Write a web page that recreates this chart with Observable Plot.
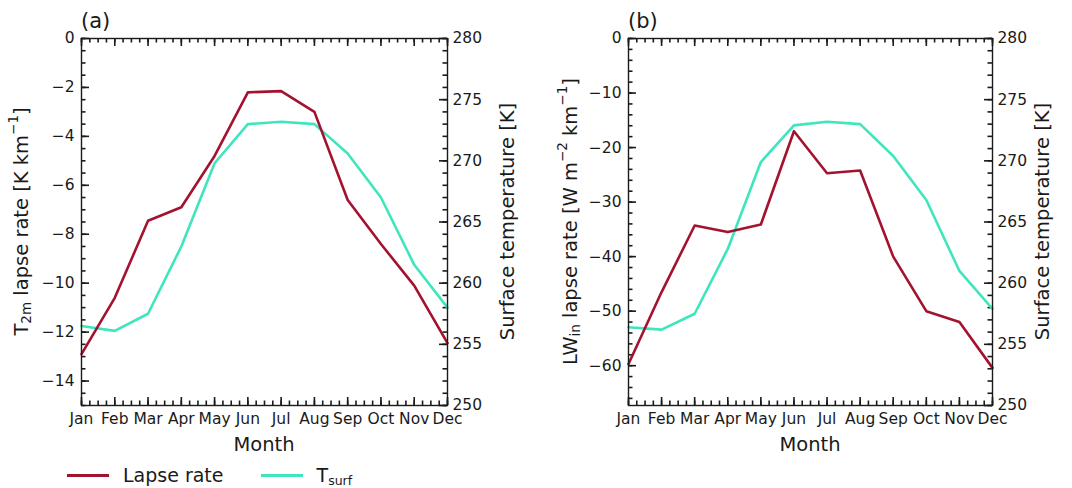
<!DOCTYPE html>
<html>
<head>
<meta charset="utf-8">
<script src="https://cdn.jsdelivr.net/npm/d3@7"></script>
<script src="https://cdn.jsdelivr.net/npm/@observablehq/plot@0.6"></script>
<style>
  html, body { margin: 0; padding: 0; background: #fff; }
  #wrap { position: relative; width: 1072px; height: 488px; overflow: hidden; font-family: "DejaVu Sans", sans-serif; color: #1a1a1a; }
  .panel { position: absolute; top: 0; width: 536px; height: 460px; }
  .panel svg { position: absolute; left: 0; top: 0; }
  #legend { position: absolute; left: 67px; top: 463px; font-size: 19px; line-height: 24px; display: flex; align-items: center; white-space: nowrap; }
  .sw { display: inline-block; width: 42px; height: 3px; margin-right: 14px; }
  .item { display: flex; align-items: center; margin-right: 37px; }
  .lab sub { font-size: 12.5px; vertical-align: -3px; line-height: 0; }
</style>
</head>
<body>
<div id="wrap">
  <div class="panel" id="pa" style="left:0px"></div>
  <div class="panel" id="pb" style="left:536px"></div>
  <div id="legend">
    <div class="item"><span class="sw" style="background:#a3122f"></span><span class="lab">Lapse rate</span></div>
    <div class="item"><span class="sw" style="background:#3fe6bd"></span><span class="lab">T<sub>surf</sub></span></div>
  </div>
</div>
<script>
// ---- data ----
const months = ["Jan","Feb","Mar","Apr","May","Jun","Jul","Aug","Sep","Oct","Nov","Dec"];
const monthNum = [1,2,3,4,5,6,7,8,9,10,11,12];
// panel (a): T2m lapse rate [K km-1]
const lapseT2m = [-12.9, -10.6, -7.45, -6.9, -4.8, -2.2, -2.15, -3.0, -6.6, -8.4, -10.1, -12.45];
// panel (b): LWin lapse rate [W m-2 km-1]
const lapseLW = [-59.7, -46.5, -34.3, -35.5, -34.1, -17.0, -24.7, -24.2, -40.0, -50.0, -52.0, -60.4];
// surface temperature [K]
const tsurfA = [256.5, 256.1, 257.5, 263.0, 269.8, 273.0, 273.2, 273.0, 270.6, 267.0, 261.5, 258.0];
const tsurfB = [256.4, 256.2, 257.5, 262.8, 269.9, 272.9, 273.2, 273.0, 270.4, 266.8, 261.0, 257.9];
// axis ticks
const yTicksA = [-14, -12, -10, -8, -6, -4, -2, 0];
const yDomA = [-15, 0];
const yTicksB = [-60, -50, -40, -30, -20, -10, 0];
const yDomB = [-67.3, 0];
const tTicks = [250, 255, 260, 265, 270, 275, 280];
const tDom = [250, 280];

const RED = "#a3122f";
const CYAN = "#3fe6bd";
const INK = "#1a1a1a";
const W = 536, H = 460, MT = 38, MB = 55;
const innerH = H - MT - MB;
const MAJ = 8, MIN = 4.5, TW = 1.6;
const style = {fontFamily: "DejaVu Sans, sans-serif", fontSize: "15.5px", color: INK, background: "transparent", overflow: "visible"};

function range(a, b, s) { const r = []; for (let v = a; v <= b + 1e-9; v += s) r.push(+v.toFixed(4)); return r; }
const minorX = range(1, 12, 0.25);

function addText(svg, x, y, parts, opts = {}) {
  const t = d3.select(svg).append("text")
    .attr("font-family", "DejaVu Sans, sans-serif")
    .attr("font-size", opts.size || 19.5)
    .attr("fill", INK)
    .attr("text-anchor", opts.anchor || "middle")
    .attr("transform", `translate(${x},${y})` + (opts.rotate ? ` rotate(${opts.rotate})` : ""));
  if (opts.middle) t.attr("dominant-baseline", "middle");
  for (const [s, kind] of parts) {
    const ts = t.append("tspan").text(s);
    if (kind === "sub") ts.attr("font-size", 13.5).attr("dy", 5);
    else if (kind === "sup") ts.attr("font-size", 13.5).attr("dy", -8);
    else if (kind === "back-sub") ts.attr("dy", -5);
    else if (kind === "back-sup") ts.attr("dy", 8);
  }
}

// inward tick rules: length given in pixels, converted to data units of the scale
function xTicks(vals, yDom, len) {
  const d = len * (yDom[1] - yDom[0]) / innerH;
  const o = {x: v => v, stroke: INK, strokeWidth: TW};
  return [
    Plot.ruleX(vals, {...o, y1: yDom[0], y2: yDom[0] + d}),
    Plot.ruleX(vals, {...o, y1: yDom[1], y2: yDom[1] - d})
  ];
}
function yTickRules(vals, side, innerW, len) {
  const d = len * 11 / innerW;
  const o = {y: v => v, stroke: INK, strokeWidth: TW};
  return side === "left"
    ? Plot.ruleY(vals, {...o, x1: 1, x2: 1 + d})
    : Plot.ruleY(vals, {...o, x1: 12, x2: 12 - d});
}

function panel(el, ml, mr, lapse, tsurf, yDom, yTicks, yMinorStep, tag, leftLabel, rightLabel) {
  const innerW = W - ml - mr;
  const data = monthNum.map((m, i) => ({m, v: lapse[i], t: tsurf[i]}));
  const yMinor = range(yDom[0] < -60 ? -66 : -15, 0, yMinorStep);
  const a = Plot.plot({
    width: W, height: H, marginLeft: ml, marginRight: mr, marginTop: MT, marginBottom: MB,
    x: {domain: [1, 12], axis: null}, y: {domain: yDom, axis: null},
    style,
    marks: [
      ...xTicks(minorX, yDom, MIN),
      ...xTicks(monthNum, yDom, MAJ),
      yTickRules(yMinor, "left", innerW, MIN),
      yTickRules(yTicks, "left", innerW, MAJ),
      Plot.axisX({ticks: monthNum, tickSize: 0, tickPadding: 7, tickFormat: d => months[d - 1], label: null}),
      Plot.axisY({ticks: yTicks, tickSize: 0, tickPadding: 7, label: null}),
      Plot.line(data, {x: "m", y: "v", stroke: RED, strokeWidth: 2.6}),
      Plot.frame({stroke: INK, strokeWidth: 1.4})
    ]
  });
  const b = Plot.plot({
    width: W, height: H, marginLeft: ml, marginRight: mr, marginTop: MT, marginBottom: MB,
    x: {domain: [1, 12], axis: null}, y: {domain: tDom, axis: null},
    style,
    marks: [
      yTickRules(range(250, 280, 1), "right", innerW, MIN),
      yTickRules(tTicks, "right", innerW, MAJ),
      Plot.axisY({anchor: "right", ticks: tTicks, tickSize: 0, tickPadding: 5, label: null}),
      Plot.line(data, {x: "m", y: "t", stroke: CYAN, strokeWidth: 2.6})
    ]
  });
  el.appendChild(b);
  el.appendChild(a);
  const cx = (ml + (W - mr)) / 2, cy = (MT + (H - MB)) / 2;
  addText(a, ml, 28, [[tag, ""]], {size: 21, anchor: "start"});
  addText(a, cx, 451, [["Month", ""]]);
  addText(a, leftLabel.x, cy, leftLabel.parts, {rotate: -90, middle: true});
  addText(a, rightLabel.x, cy, [["Surface temperature [K]", ""]], {rotate: -90, middle: true});
}

panel(document.getElementById("pa"), 81, 89, lapseT2m, tsurfA, yDomA, yTicksA, 0.5, "(a)",
  {x: 22, parts: [["T", ""], ["2m", "sub"], [" lapse rate [K km", "back-sub"], ["−1", "sup"], ["]", "back-sup"]]},
  {x: 508});
panel(document.getElementById("pb"), 92, 80, lapseLW, tsurfB, yDomB, yTicksB, 2, "(b)",
  {x: 35, parts: [["LW", ""], ["in", "sub"], [" lapse rate [W m", "back-sub"], ["−2", "sup"], [" km", "back-sup"], ["−1", "sup"], ["]", "back-sup"]]},
  {x: 507});
</script>
</body>
</html>
